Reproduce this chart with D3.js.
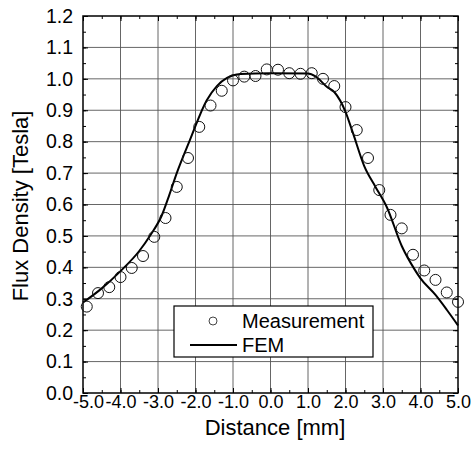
<!DOCTYPE html>
<html><head><meta charset="utf-8">
<script src="https://cdn.jsdelivr.net/npm/d3@7"></script>
<style>body{margin:0;background:#fff}svg{display:block;font-family:"Liberation Sans",Arial,sans-serif}</style>
</head><body><svg id="c" width="475" height="454"></svg>
<script>
const measX = [-4.9,-4.6,-4.3,-4.0,-3.7,-3.4,-3.1,-2.8,-2.5,-2.2,-1.9,-1.6,-1.3,-1.0,-0.7,-0.4,-0.1,0.2,0.5,0.8,1.1,1.4,1.7,2.0,2.3,2.6,2.9,3.2,3.5,3.8,4.1,4.4,4.7,5.0];
const measY = [0.275,0.318,0.337,0.369,0.398,0.436,0.497,0.557,0.656,0.748,0.847,0.915,0.962,0.995,1.007,1.009,1.030,1.029,1.018,1.016,1.018,1.000,0.977,0.910,0.837,0.748,0.646,0.567,0.524,0.440,0.390,0.360,0.320,0.290];
const femX = [-5.0,-4.5,-4.0,-3.5,-3.2,-2.9,-2.7,-2.5,-2.15,-1.7,-1.43,-1.16,-0.8,0.0,1.0,1.2,1.5,1.7,2.0,2.2,2.5,2.8,3.1,3.5,3.85,4.0,4.4,4.7,5.0];
const femY = [0.288,0.333,0.388,0.452,0.503,0.565,0.630,0.700,0.805,0.932,0.977,1.003,1.015,1.018,1.017,1.008,0.975,0.958,0.895,0.827,0.722,0.656,0.592,0.468,0.392,0.365,0.312,0.265,0.215];
const xTicks = [-5,-4,-3,-2,-1,0,1,2,3,4,5];
const yTicks = [0,0.1,0.2,0.3,0.4,0.5,0.6,0.7,0.8,0.9,1.0,1.1,1.2];
const legendLabels = ["Measurement","FEM"];
const xTitle = "Distance [mm]", yTitle = "Flux Density [Tesla]";

const svg = d3.select("#c");
const L=83,R=458,T=16,B=393;
const x = d3.scaleLinear().domain([-5,5]).range([L,R]);
const y = d3.scaleLinear().domain([0,1.2]).range([B,T]);

// grid
const g = svg.append("g");
g.selectAll("line.gx").data(xTicks.slice(1,-1)).join("line")
 .attr("x1",d=>x(d)).attr("x2",d=>x(d)).attr("y1",T).attr("y2",B)
 .attr("stroke","#555").attr("stroke-width",0.9);
g.selectAll("line.gy").data(yTicks.slice(1,-1)).join("line")
 .attr("y1",d=>y(d)).attr("y2",d=>y(d)).attr("x1",L).attr("x2",R)
 .attr("stroke","#555").attr("stroke-width",0.9);

// axes with inward ticks
const xMinor = d3.range(-5,5.01,0.5), yMinor = d3.range(0,1.201,0.05);
function axisTicks(axisGen, tr){ const a=svg.append("g").attr("transform",tr).call(axisGen); a.select(".domain").remove(); a.selectAll("line").attr("stroke","#000"); return a;}
axisTicks(d3.axisBottom(x).tickValues(xMinor).tickSize(-3).tickFormat(""),`translate(0,${B})`);
axisTicks(d3.axisTop(x).tickValues(xMinor).tickSize(-3).tickFormat(""),`translate(0,${T})`);
axisTicks(d3.axisLeft(y).tickValues(yMinor).tickSize(-3).tickFormat(""),`translate(${L},0)`);
axisTicks(d3.axisRight(y).tickValues(yMinor).tickSize(-3).tickFormat(""),`translate(${R},0)`);
axisTicks(d3.axisTop(x).tickValues(xTicks).tickSize(-5).tickFormat(""),`translate(0,${T})`);
axisTicks(d3.axisRight(y).tickValues(yTicks).tickSize(-5).tickFormat(""),`translate(${R},0)`);
const xa = axisTicks(d3.axisBottom(x).tickValues(xTicks).tickSize(-5).tickPadding(2).tickFormat(d3.format(".1f")),`translate(0,${B})`);
xa.selectAll("text").attr("font-size",18).attr("font-family","Liberation Sans, Arial, sans-serif").attr("fill","#000")
 .text(d=>d3.format(".1f")(d).replace("−","-")).attr("dx",(d,i)=>i===0?5:0);
const ya = axisTicks(d3.axisLeft(y).tickValues(yTicks).tickSize(-5).tickPadding(10).tickFormat(d3.format(".1f")),`translate(${L},0)`);
ya.selectAll("text").attr("font-size",19.5).attr("font-family","Liberation Sans, Arial, sans-serif").attr("fill","#000");

// frame
svg.append("rect").attr("x",L).attr("y",T).attr("width",R-L).attr("height",B-T).attr("fill","none").attr("stroke","#000").attr("stroke-width",1.5);

// FEM line
const fem = femX.map((v,i)=>[v,femY[i]]);
svg.append("path").datum(fem).attr("fill","none").attr("stroke","#000").attr("stroke-width",2)
 .attr("d",d3.line().x(d=>x(d[0])).y(d=>y(d[1])).curve(d3.curveMonotoneX));

// measurement
svg.append("g").selectAll("circle").data(measX.map((v,i)=>[v,measY[i]])).join("circle")
 .attr("cx",d=>x(d[0])).attr("cy",d=>y(d[1])).attr("r",5.5)
 .attr("fill","none").attr("stroke","#111").attr("stroke-width",1);

// legend
const lg = svg.append("g");
lg.append("rect").attr("x",174).attr("y",306).attr("width",199).attr("height",51).attr("fill","#fff").attr("stroke","#000").attr("stroke-width",1.2);
lg.append("circle").attr("cx",213).attr("cy",321).attr("r",4).attr("fill","none").attr("stroke","#444").attr("stroke-width",1);
lg.append("line").attr("x1",190).attr("x2",237).attr("y1",345).attr("y2",345).attr("stroke","#000").attr("stroke-width",2);
lg.selectAll("text").data(legendLabels).join("text").attr("x",242).attr("y",(d,i)=>328+i*24)
 .attr("font-size",20).attr("fill","#000").text(d=>d);

// titles
svg.append("text").attr("x",275).attr("y",435).attr("text-anchor","middle").attr("font-size",22).attr("fill","#000").text(xTitle);
svg.append("text").attr("transform","translate(28,206) rotate(-90)").attr("text-anchor","middle").attr("font-size",22).attr("fill","#000").text(yTitle);
</script></body></html>
